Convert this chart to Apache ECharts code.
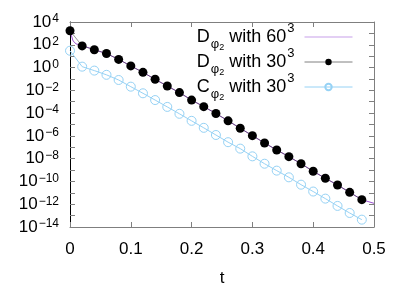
<!DOCTYPE html>
<html><head><meta charset="utf-8">
<script src="https://cdn.jsdelivr.net/npm/echarts@6/dist/echarts.min.js"></script>
<style>html,body{margin:0;padding:0;background:#fff}#c{width:407px;height:285px}</style>
</head><body><div id="c"></div>
<script>
// time samples (30^3 runs)
var tSamples = [0, 0.02, 0.04, 0.06, 0.08, 0.10, 0.12, 0.14, 0.16, 0.18, 0.20, 0.22, 0.24,
  0.26, 0.28, 0.30, 0.32, 0.34, 0.36, 0.38, 0.40, 0.42, 0.44, 0.46, 0.48];
var D30 = [1.7e3, 80, 37, 17, 5.2, 1.4, 0.38, 0.093, 0.024, 6.3e-3, 1.4e-3, 3.7e-4, 9.3e-5,
  2.1e-5, 4.7e-6, 1.05e-6, 2.4e-7, 5.8e-8, 1.5e-8, 3.6e-9, 7.8e-10, 1.9e-10, 4.9e-11, 1.1e-11, 2.5e-12];
var C30 = [30, 1.2, 0.54, 0.23, 0.081, 0.021, 5.5e-3, 1.4e-3, 3.5e-4, 8.7e-5, 2.1e-5, 5.1e-6, 1.2e-6,
  2.8e-7, 7.6e-8, 1.6e-8, 3.6e-9, 8.9e-10, 2.3e-10, 5.2e-11, 1.3e-11, 3.1e-12, 7.1e-13, 1.7e-13, 4.4e-14];
// 60^3 run (finer sampling)
var t60 = [0, 0.0025, 0.005, 0.01, 0.02, 0.04, 0.06, 0.08, 0.10, 0.12, 0.14, 0.16, 0.18, 0.20, 0.22, 0.24,
  0.26, 0.28, 0.30, 0.32, 0.34, 0.36, 0.38, 0.40, 0.42, 0.44, 0.46, 0.48, 0.50];
var D60 = [1.7e3, 6e2, 2.2e2, 1.2e2, 85, 37, 17, 5.2, 1.4, 0.38, 0.093, 0.024, 6.3e-3, 1.4e-3, 3.7e-4, 9.3e-5,
  2.1e-5, 4.7e-6, 1.05e-6, 2.4e-7, 5.8e-8, 1.5e-8, 3.6e-9, 7.8e-10, 1.9e-10, 4.9e-11, 1.1e-11, 2.5e-12, 1.2e-12];
var xTicks = [0, 0.1, 0.2, 0.3, 0.4, 0.5];
var seriesNames = ['D60', 'D30', 'C30'];

function pairs(xs, ys) { return xs.map(function (x, i) { return [x, ys[i]]; }); }

var FONT = 'Liberation Sans';
var chart = echarts.init(document.getElementById('c'), null, {renderer: 'canvas'});
var supRich = {
  b: {fontSize: 17, fontFamily: FONT, color: '#000', lineHeight: 18, verticalAlign: 'middle'},
  s: {fontSize: 12, fontFamily: FONT, color: '#000', lineHeight: 12, verticalAlign: 'top', padding: [0, 0, 0, 1]}
};
var H = 30;
var legRich = {
  b: {fontSize: 18, fontFamily: FONT, color: '#000', lineHeight: H, verticalAlign: 'middle'},
  sub: {fontSize: 13, fontFamily: FONT, color: '#000', lineHeight: 13, verticalAlign: 'bottom', padding: [0, 0, 1, 1]},
  sub2: {fontSize: 9, fontFamily: FONT, color: '#000', lineHeight: 7, verticalAlign: 'bottom'},
  s: {fontSize: 13, fontFamily: FONT, color: '#000', lineHeight: 13, verticalAlign: 'top', padding: [0, 5, 0, 1]}
};
var legendLabels = {
  D60: '{b|D}{sub|φ}{sub2|2}{b| with 60}{s|3}',
  D30: '{b|D}{sub|φ}{sub2|2}{b| with 30}{s|3}',
  C30: '{b|C}{sub|φ}{sub2|2}{b| with 30}{s|3}'
};
var gray = '#7f7f7f';
var option = {
  animation: false,
  backgroundColor: '#fff',
  grid: {left: 70, right: 33, top: 22, bottom: 58, containLabel: false, outerBoundsMode: 'none'},
  legend: {
    orient: 'vertical', right: 54, top: 22, align: 'right', padding: 0,
    itemWidth: 48, itemHeight: 8, itemGap: -5,
    lineStyle: {width: 1},
    data: [
      {name: 'D60', itemStyle: {opacity: 0}, lineStyle: {color: '#c79fe9', width: 1}},
      {name: 'D30', lineStyle: {color: '#808080', width: 1}},
      {name: 'C30', lineStyle: {color: '#96d2f5', width: 1}}
    ],
    formatter: function (n) { return legendLabels[n]; },
    textStyle: {rich: legRich, fontSize: 18, fontFamily: FONT}
  },
  xAxis: [{
    type: 'value', min: 0, max: 0.5, interval: 0.1, position: 'bottom',
    name: 't', nameLocation: 'middle', nameGap: 43,
    nameTextStyle: {fontSize: 17, fontFamily: FONT, color: '#000'},
    axisLine: {show: true, onZero: false, lineStyle: {color: gray, width: 1}},
    axisTick: {inside: true, length: 5, lineStyle: {color: gray}},
    axisLabel: {fontSize: 17, fontFamily: FONT, color: '#000', margin: 14,
      formatter: function (v) { var r = Math.round(v * 10) / 10; return xTicks.indexOf(r) >= 0 ? String(r) : ''; }},
    splitLine: {show: false}
  }, {
    type: 'value', min: 0, max: 0.5, interval: 0.1, position: 'top',
    axisLine: {show: true, onZero: false, lineStyle: {color: gray, width: 1}},
    axisTick: {inside: true, length: 5, lineStyle: {color: gray}},
    axisLabel: {show: false}, splitLine: {show: false}
  }],
  yAxis: [{
    type: 'log', logBase: 10, min: 1e-14, max: 1e4, interval: 1, position: 'left',
    axisLine: {show: true, onZero: false, lineStyle: {color: '#000', width: 1}},
    axisTick: {inside: true, length: 5, lineStyle: {color: gray}},
    axisLabel: {
      margin: 11, rich: supRich,
      formatter: function (v) {
        var e = Math.round(Math.log10(v));
        if (e % 2 !== 0) return '';
        return '{b|10}{s|' + (e < 0 ? '\u2212' + (-e) : e) + '}';
      }
    },
    splitLine: {show: false}, minorTick: {show: false}
  }, {
    type: 'log', logBase: 10, min: 1e-14, max: 1e4, interval: 1, position: 'right',
    axisLine: {show: true, onZero: false, lineStyle: {color: gray, width: 1}},
    axisTick: {inside: true, length: 5, lineStyle: {color: gray}},
    axisLabel: {show: false}, splitLine: {show: false}
  }],
  series: [{
    name: 'D60', type: 'line', data: pairs(t60, D60), showSymbol: false, symbol: 'none',
    lineStyle: {color: '#9a4fd0', width: 1}, itemStyle: {color: '#c79fe9'}, z: 2
  }, {
    name: 'D30', type: 'line', data: pairs(tSamples, D30), symbol: 'circle', symbolSize: 9,
    lineStyle: {color: 'rgba(60,60,60,0.55)', width: 1}, itemStyle: {color: '#000', borderWidth: 0}, z: 3
  }, {
    name: 'C30', type: 'line', data: pairs(tSamples, C30), symbol: 'circle', symbolSize: 9,
    lineStyle: {color: '#96d2f5', width: 1}, itemStyle: {color: 'rgba(255,255,255,0)', borderColor: '#96d2f5', borderWidth: 1}, z: 3
  }]
};
chart.setOption(option);
</script></body></html>
